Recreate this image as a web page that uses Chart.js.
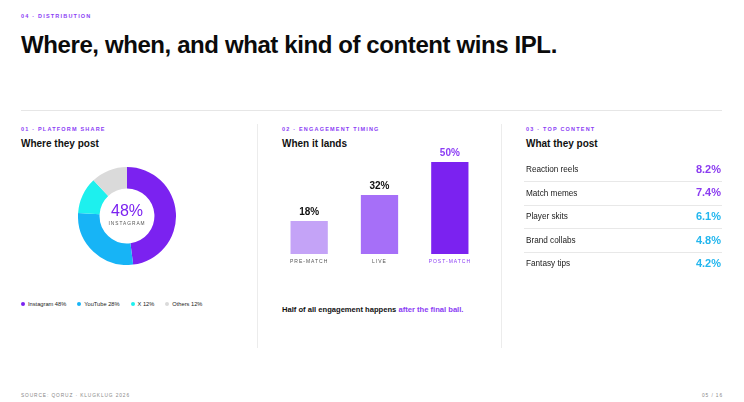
<!DOCTYPE html>
<html>
<head>
<meta charset="utf-8">
<script src="https://cdn.jsdelivr.net/npm/chart.js@4"></script>
<style>
  html, body { margin: 0; padding: 0; background: #fff; }
  body { width: 744px; height: 402px; position: relative; overflow: hidden; font-family: "Liberation Sans", Arial, sans-serif; color: #111; }
  .abs { position: absolute; }
  .kicker { font-size: 5.5px; font-weight: bold; letter-spacing: 1.2px; color: #8b3cf5; text-transform: uppercase; white-space: nowrap; }
  .title { left: 21px; top: 31px; font-size: 24px; font-weight: bold; letter-spacing: -0.4px; white-space: nowrap; color: #0b0b0b; }
  .hrule { left: 21px; top: 110px; width: 701px; height: 1px; background: #e6e6e6; }
  .vrule { top: 124px; width: 1px; height: 224px; background: #ececec; }
  .head { font-size: 10px; font-weight: bold; color: #111; white-space: nowrap; }
  .legend { left: 21px; top: 301px; font-size: 5.7px; color: #222; white-space: nowrap; display: flex; }
  .legend span.item { display: flex; align-items: center; margin-right: 11px; }
  .legend i { display: inline-block; width: 4px; height: 4px; border-radius: 50%; margin-right: 3px; }
  .note { left: 282px; top: 305px; font-size: 7.6px; font-weight: bold; color: #111; white-space: nowrap; }
  .note b { color: #8b3cf5; }
  .foot { top: 393px; font-size: 4.8px; letter-spacing: 0.9px; color: #888; white-space: nowrap; }
</style>
</head>
<body>
<div class="abs kicker" style="left:21px; top:13px;">04 · Distribution</div>
<div class="abs title">Where, when, and what kind of content wins IPL.</div>
<div class="abs hrule"></div>

<div class="abs vrule" style="left:257px;"></div>
<div class="abs vrule" style="left:501px;"></div>

<!-- 01 -->
<div class="abs kicker" style="left:21px; top:126px;">01 · Platform share</div>
<div class="abs head" style="left:21px; top:138px;">Where they post</div>
<div class="abs" style="left:78px; top:167px; width:98px; height:98px;"><canvas id="donut"></canvas></div>
<div class="abs legend" id="legend"></div>

<!-- 02 -->
<div class="abs kicker" style="left:282px; top:126px;">02 · Engagement timing</div>
<div class="abs head" style="left:282px; top:138px;">When it lands</div>
<div class="abs" style="left:274px; top:140px; width:211px; height:130px;"><canvas id="bars"></canvas></div>
<div class="abs note">Half of all engagement happens <b>after the final ball.</b></div>

<!-- 03 -->
<div class="abs kicker" style="left:526px; top:126px;">03 · Top content</div>
<div class="abs head" style="left:526px; top:138px;">What they post</div>
<div class="abs" style="left:524px; top:158px; width:198px; height:118px;"><canvas id="list"></canvas></div>

<div class="abs foot" style="left:21px;">SOURCE: QORUZ · KLUGKLUG 2026</div>
<div class="abs foot" style="right:21px;">05 / 16</div>

<script>
// platform share
const platformLabels = ["Instagram", "YouTube", "X", "Others"];
const platformShare = [48, 28, 12, 12];
const platformColors = ["#7b22f0", "#17b4f6", "#1df0ee", "#dadada"];

// engagement timing
const timingLabels = ["PRE-MATCH", "LIVE", "POST-MATCH"];
const timingValues = [18, 32, 50];
const timingColors = ["#c4a3f7", "#a66ff8", "#7b22f0"];

// top content
const contentLabels = ["Reaction reels", "Match memes", "Player skits", "Brand collabs", "Fantasy tips"];
const contentValues = [8.2, 7.4, 6.1, 4.8, 4.2];
const contentColors = ["#8b3cf0", "#8b3cf0", "#22b6ee", "#22b6ee", "#22b6ee"];

const purple = "#8b3cf5";
const font = '"Liberation Sans", Arial, sans-serif';

// legend
document.getElementById("legend").innerHTML = platformLabels
  .map((l, i) => `<span class="item"><i style="background:${platformColors[i]}"></i>${l} ${platformShare[i]}%</span>`)
  .join("");

// 가운데 텍스트
const centerText = {
  id: "centerText",
  afterDraw(chart) {
    const { ctx } = chart;
    const arc = chart.getDatasetMeta(0).data[0];
    ctx.save();
    ctx.textAlign = "center";
    ctx.textBaseline = "middle";
    ctx.fillStyle = "#7b22f0";
    ctx.font = "16px " + font;
    ctx.fillText(platformShare[0] + "%", arc.x, arc.y - 4);
    ctx.fillStyle = "#555";
    ctx.font = "4.8px " + font;
    ctx.letterSpacing = "1px";
    ctx.fillText(platformLabels[0].toUpperCase(), arc.x, arc.y + 8);
    ctx.restore();
  },
};

new Chart(document.getElementById("donut"), {
  type: "doughnut",
  data: {
    labels: platformLabels,
    datasets: [{ data: platformShare, backgroundColor: platformColors, borderWidth: 0 }],
  },
  options: {
    responsive: true,
    maintainAspectRatio: false,
    animation: false,
    cutout: "56%",
    plugins: { legend: { display: false }, tooltip: { enabled: false } },
  },
  plugins: [centerText],
});

// bar labels
const barLabels = {
  id: "barLabels",
  afterDatasetsDraw(chart) {
    const { ctx } = chart;
    const meta = chart.getDatasetMeta(0);
    const base = chart.scales.y.getPixelForValue(0);
    ctx.save();
    ctx.textAlign = "center";
    meta.data.forEach((bar, i) => {
      const last = i === timingValues.length - 1;
      ctx.textBaseline = "middle";
      ctx.font = "bold 10px " + font;
      ctx.fillStyle = last ? purple : "#111";
      ctx.letterSpacing = "0px";
      ctx.fillText(timingValues[i] + "%", bar.x, bar.y - 9);
      ctx.font = "5px " + font;
      ctx.letterSpacing = "1px";
      ctx.fillStyle = last ? purple : "#555";
      ctx.fillText(timingLabels[i], bar.x, base + 8);
    });
    ctx.restore();
  },
};

new Chart(document.getElementById("bars"), {
  type: "bar",
  data: {
    labels: timingLabels,
    datasets: [{ data: timingValues, backgroundColor: timingColors, borderWidth: 0, categoryPercentage: 1, barPercentage: 0.53 }],
  },
  options: {
    responsive: true,
    maintainAspectRatio: false,
    animation: false,
    layout: { padding: { top: 22, bottom: 16, left: 0, right: 0 } },
    scales: {
      x: { display: false },
      y: { display: false, min: 0, max: 50 },
    },
    plugins: { legend: { display: false }, tooltip: { enabled: false } },
  },
  plugins: [barLabels],
});

// top content rows
const rowText = {
  id: "rowText",
  afterDraw(chart) {
    const { ctx, chartArea } = chart;
    const y = chart.scales.y;
    ctx.save();
    ctx.textBaseline = "middle";
    contentLabels.forEach((l, i) => {
      const py = y.getPixelForValue(i);
      ctx.textAlign = "left";
      ctx.font = "8.2px " + font;
      ctx.fillStyle = "#1a1a1a";
      ctx.fillText(l, chartArea.left + 2, py);
      ctx.textAlign = "right";
      ctx.font = "bold 11px " + font;
      ctx.fillStyle = contentColors[i];
      ctx.fillText(contentValues[i].toFixed(1) + "%", chartArea.right - 1, py);
    });
    ctx.restore();
  },
};

new Chart(document.getElementById("list"), {
  type: "bar",
  data: {
    labels: contentLabels,
    datasets: [{ data: contentValues, backgroundColor: "rgba(0,0,0,0)", borderWidth: 0 }],
  },
  options: {
    indexAxis: "y",
    responsive: true,
    maintainAspectRatio: false,
    animation: false,
    layout: { padding: 0 },
    scales: {
      x: { display: false, min: 0, max: 10 },
      y: {
        display: true,
        ticks: { display: false },
        border: { display: false },
        grid: {
          offset: true,
          drawTicks: false,
          lineWidth: 1,
          color: (c) => (c.index > 0 && c.index < contentLabels.length ? "#e8e8e8" : "rgba(0,0,0,0)"),
        },
      },
    },
    plugins: { legend: { display: false }, tooltip: { enabled: false } },
  },
  plugins: [rowText],
});
</script>
</body>
</html>
